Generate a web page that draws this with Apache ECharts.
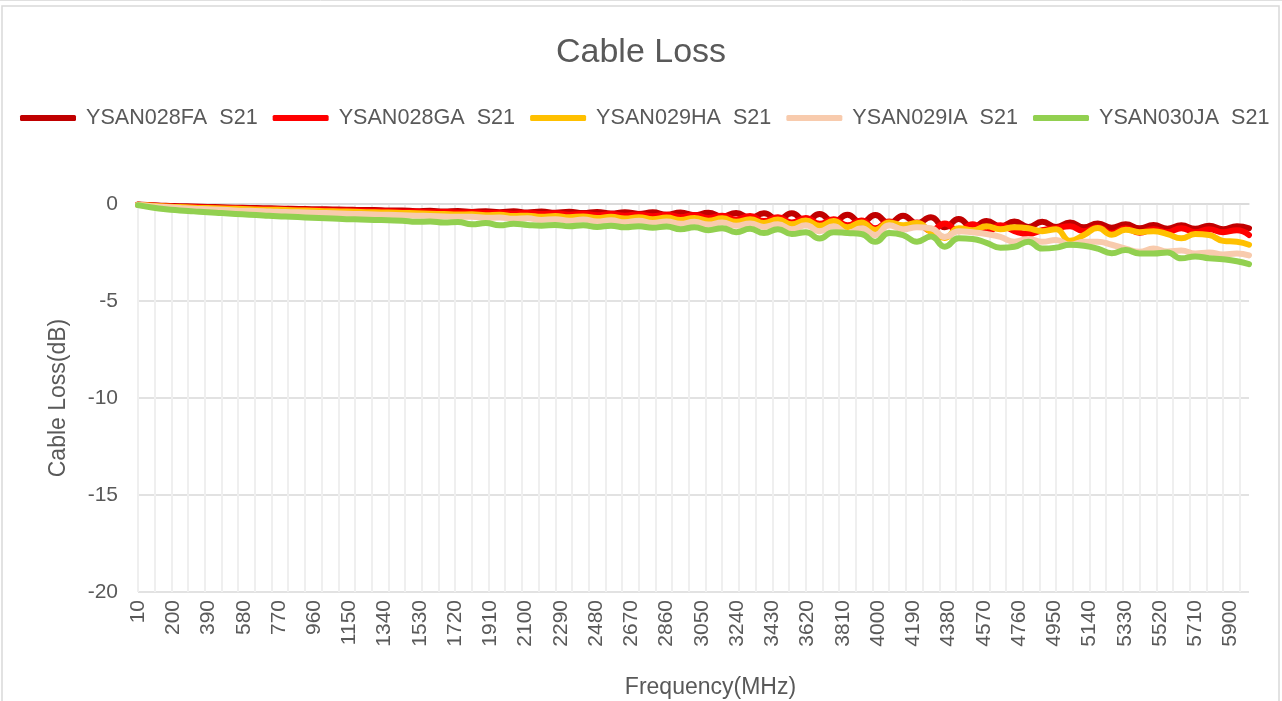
<!DOCTYPE html>
<html style="width: 100%;height:100%;">
<head>
    <meta charset="utf-8">
    <title>Cable Loss</title>
    <script src="https://cdn.jsdelivr.net/npm/echarts@6/dist/echarts.min.js"></script>
    <style>
        html, body { margin: 0; padding: 0; background: #ffffff; }
        #chart { width: 1282px; height: 701px; }
    </style>
</head>
<body>
<div id="chart"></div>
<script>
    // sample frequencies (MHz)
    const freqs = [10, 85, 160, 235, 310, 385, 460, 535, 610, 685, 760, 835, 910, 985, 1060, 1135,
        1210, 1285, 1360, 1435, 1510, 1585, 1660, 1735, 1810, 1885, 1960, 2035, 2110, 2185, 2260,
        2335, 2410, 2485, 2560, 2635, 2710, 2785, 2860, 2935, 3010, 3085, 3160, 3235, 3310, 3385,
        3460, 3535, 3610, 3685, 3760, 3835, 3910, 3985, 4060, 4135, 4210, 4285, 4360, 4435, 4510,
        4585, 4660, 4735, 4810, 4885, 4960, 5035, 5110, 5185, 5260, 5335, 5410, 5485, 5560, 5635,
        5710, 5785, 5860, 5935, 6000];

    const seriesNames = ['YSAN028FA  S21', 'YSAN028GA  S21', 'YSAN029HA  S21', 'YSAN029IA  S21', 'YSAN030JA  S21'];
    const seriesColors = ['#C00000', '#FF0000', '#FFC000', '#F8CBAD', '#92D050'];

    const lossFA = [-0.03, -0.06, -0.09, -0.11, -0.13, -0.15, -0.17, -0.19, -0.2, -0.22, -0.23, -0.25,
        -0.26, -0.27, -0.28, -0.29, -0.31, -0.31, -0.34, -0.33, -0.37, -0.35, -0.39, -0.36, -0.41,
        -0.37, -0.42, -0.38, -0.44, -0.39, -0.45, -0.4, -0.47, -0.41, -0.49, -0.42, -0.51, -0.43,
        -0.55, -0.44, -0.58, -0.45, -0.65, -0.46, -0.72, -0.48, -0.8, -0.48, -0.88, -0.52, -0.92,
        -0.55, -0.98, -0.57, -1.0, -0.6, -1.0, -0.68, -1.2, -0.77, -1.2, -0.88, -1.15, -0.9, -1.18,
        -0.92, -1.18, -0.95, -1.2, -1.0, -1.22, -1.05, -1.25, -1.08, -1.27, -1.1, -1.28, -1.12,
        -1.3, -1.15, -1.25];
    const lossGA = [-0.04, -0.08, -0.11, -0.14, -0.16, -0.18, -0.2, -0.22, -0.24, -0.26, -0.27, -0.29,
        -0.3, -0.31, -0.33, -0.34, -0.35, -0.37, -0.37, -0.4, -0.39, -0.43, -0.41, -0.45, -0.43,
        -0.47, -0.45, -0.5, -0.46, -0.52, -0.48, -0.55, -0.5, -0.58, -0.52, -0.6, -0.54, -0.63,
        -0.55, -0.68, -0.57, -0.72, -0.6, -0.8, -0.62, -0.88, -0.68, -0.95, -0.72, -1.02, -0.78,
        -1.1, -0.85, -1.25, -0.9, -1.3, -0.95, -1.38, -1.0, -1.4, -1.05, -1.45, -1.1, -1.4, -1.55,
        -1.35, -1.25, -1.15, -1.4, -1.2, -1.5, -1.25, -1.48, -1.3, -1.45, -1.25, -1.45, -1.3,
        -1.45, -1.35, -1.6];
    const lossHA = [-0.04, -0.09, -0.13, -0.16, -0.19, -0.21, -0.23, -0.25, -0.27, -0.29, -0.3, -0.32,
        -0.34, -0.36, -0.38, -0.39, -0.41, -0.43, -0.44, -0.46, -0.48, -0.5, -0.52, -0.54, -0.53,
        -0.58, -0.56, -0.62, -0.6, -0.66, -0.62, -0.68, -0.64, -0.72, -0.66, -0.75, -0.68, -0.78,
        -0.7, -0.82, -0.72, -0.86, -0.74, -0.92, -0.78, -0.98, -0.8, -1.05, -0.85, -1.12, -0.88,
        -1.2, -0.95, -1.34, -0.95, -1.1, -0.98, -1.45, -1.75, -1.25, -1.35, -1.15, -1.3, -1.2,
        -1.25, -1.4, -1.3, -1.9, -1.6, -1.24, -1.58, -1.33, -1.45, -1.4, -1.55, -1.77, -1.55,
        -1.6, -1.9, -1.95, -2.1];
    const lossIA = [-0.05, -0.11, -0.16, -0.2, -0.24, -0.27, -0.3, -0.33, -0.35, -0.37, -0.4, -0.42,
        -0.44, -0.46, -0.48, -0.5, -0.52, -0.54, -0.56, -0.58, -0.6, -0.62, -0.64, -0.66, -0.66,
        -0.71, -0.7, -0.76, -0.74, -0.82, -0.78, -0.86, -0.8, -0.9, -0.84, -0.94, -0.86, -0.98,
        -0.9, -1.02, -0.92, -1.06, -0.96, -1.12, -1.0, -1.18, -1.05, -1.3, -1.1, -1.4, -1.15,
        -1.5, -1.25, -1.6, -1.1, -1.3, -1.2, -1.25, -1.7, -1.4, -1.46, -1.55, -1.7, -1.94, -1.8,
        -1.95, -1.85, -2.1, -1.95, -1.94, -2.1, -2.3, -2.46, -2.3, -2.45, -2.4, -2.55, -2.5,
        -2.6, -2.55, -2.65];
    const lossJA = [-0.06, -0.18, -0.27, -0.33, -0.38, -0.43, -0.47, -0.51, -0.55, -0.59, -0.63, -0.66,
        -0.69, -0.72, -0.75, -0.78, -0.8, -0.82, -0.84, -0.86, -0.92, -0.9, -0.95, -0.93, -1.05,
        -0.98, -1.1, -1.02, -1.08, -1.12, -1.08, -1.15, -1.1, -1.18, -1.12, -1.2, -1.15, -1.22,
        -1.16, -1.3, -1.2, -1.35, -1.25, -1.45, -1.28, -1.5, -1.3, -1.55, -1.45, -1.78, -1.45,
        -1.5, -1.55, -1.95, -1.5, -1.6, -1.94, -1.68, -2.2, -1.77, -1.8, -2.0, -2.25, -2.2, -1.94,
        -2.3, -2.25, -2.1, -2.15, -2.3, -2.54, -2.37, -2.55, -2.55, -2.5, -2.8, -2.7, -2.8,
        -2.85, -2.95, -3.1];

    const lossData = [lossFA, lossGA, lossHA, lossIA, lossJA];

    const yTicks = { min: -20, max: 0, step: 5 };
    const xRange = { min: 10, max: 6000, labelStep: 190, gridStep: 90 };

    const textColor = '#595959';
    const fontFamily = '"Liberation Sans", Arial, sans-serif';

    const chart = echarts.init(document.getElementById('chart'));

    const option = {
        animation: false,
        backgroundColor: '#ffffff',
        textStyle: { fontFamily: fontFamily, color: textColor },
        graphic: [
            {
                type: 'rect',
                shape: { x: 2, y: 6, width: 1277, height: 720 },
                style: { fill: 'none', stroke: '#d9d9d9', lineWidth: 1.5 },
                silent: true
            },
            {
                type: 'line',
                shape: { x1: 0, y1: 0.5, x2: 1282, y2: 0.5 },
                style: { stroke: '#e0e0e0', lineWidth: 1 },
                silent: true
            }
        ],
        title: {
            text: 'Cable Loss',
            left: 'center',
            top: 31,
            textStyle: { fontSize: 34, fontWeight: 'normal', color: textColor, fontFamily: fontFamily }
        },
        legend: {
            top: 102,
            left: 15,
            icon: 'roundRect',
            itemWidth: 56,
            itemHeight: 6,
            itemGap: 15,
            textStyle: { fontSize: 21.6, color: textColor, fontFamily: fontFamily, padding: [0, 0, 0, 5] },
            data: seriesNames
        },
        grid: { left: 138, right: 33, top: 204, bottom: 109, containLabel: false, outerBoundsMode: 'none' },
        xAxis: [
            {
                type: 'value',
                min: xRange.min,
                max: xRange.max,
                interval: xRange.labelStep,
                name: 'Frequency(MHz)',
                nameLocation: 'middle',
                nameGap: 84,
                nameTextStyle: { fontSize: 23, color: textColor, padding: [0, 0, 0, 34] },
                axisLine: { show: true, lineStyle: { color: '#d9d9d9', width: 1.5 } },
                axisTick: { show: false },
                splitLine: { show: false },
                axisLabel: {
                    rotate: 90,
                    fontSize: 21,
                    color: textColor,
                    margin: 8,
                    showMaxLabel: false,
                    formatter: v => String(v)
                }
            },
            {
                type: 'value',
                min: xRange.min,
                max: xRange.max,
                interval: xRange.gridStep,
                position: 'bottom',
                axisLine: { show: false },
                axisTick: { show: false },
                axisLabel: { show: false },
                splitLine: { show: true, showMaxLine: false, lineStyle: { color: '#efefef', width: 2 } }
            }
        ],
        yAxis: {
            type: 'value',
            min: yTicks.min,
            max: yTicks.max,
            interval: yTicks.step,
            name: 'Cable Loss(dB)',
            nameLocation: 'middle',
            nameGap: 68,
            nameTextStyle: { fontSize: 23, color: textColor },
            axisLine: { show: false },
            axisTick: { show: false },
            axisLabel: { fontSize: 21, color: textColor, margin: 20 },
            splitLine: { lineStyle: { color: '#d9d9d9', width: 1.5 } }
        },
        series: seriesNames.map((name, k) => ({
            name: name,
            type: 'line',
            xAxisIndex: 0,
            smooth: 0.5,
            symbol: 'none',
            color: seriesColors[k],
            lineStyle: { width: 6, color: seriesColors[k], cap: 'round', join: 'round' },
            data: freqs.map((f, i) => [f, lossData[k][i]])
        }))
    };

    chart.setOption(option);
</script>
</body>
</html>
